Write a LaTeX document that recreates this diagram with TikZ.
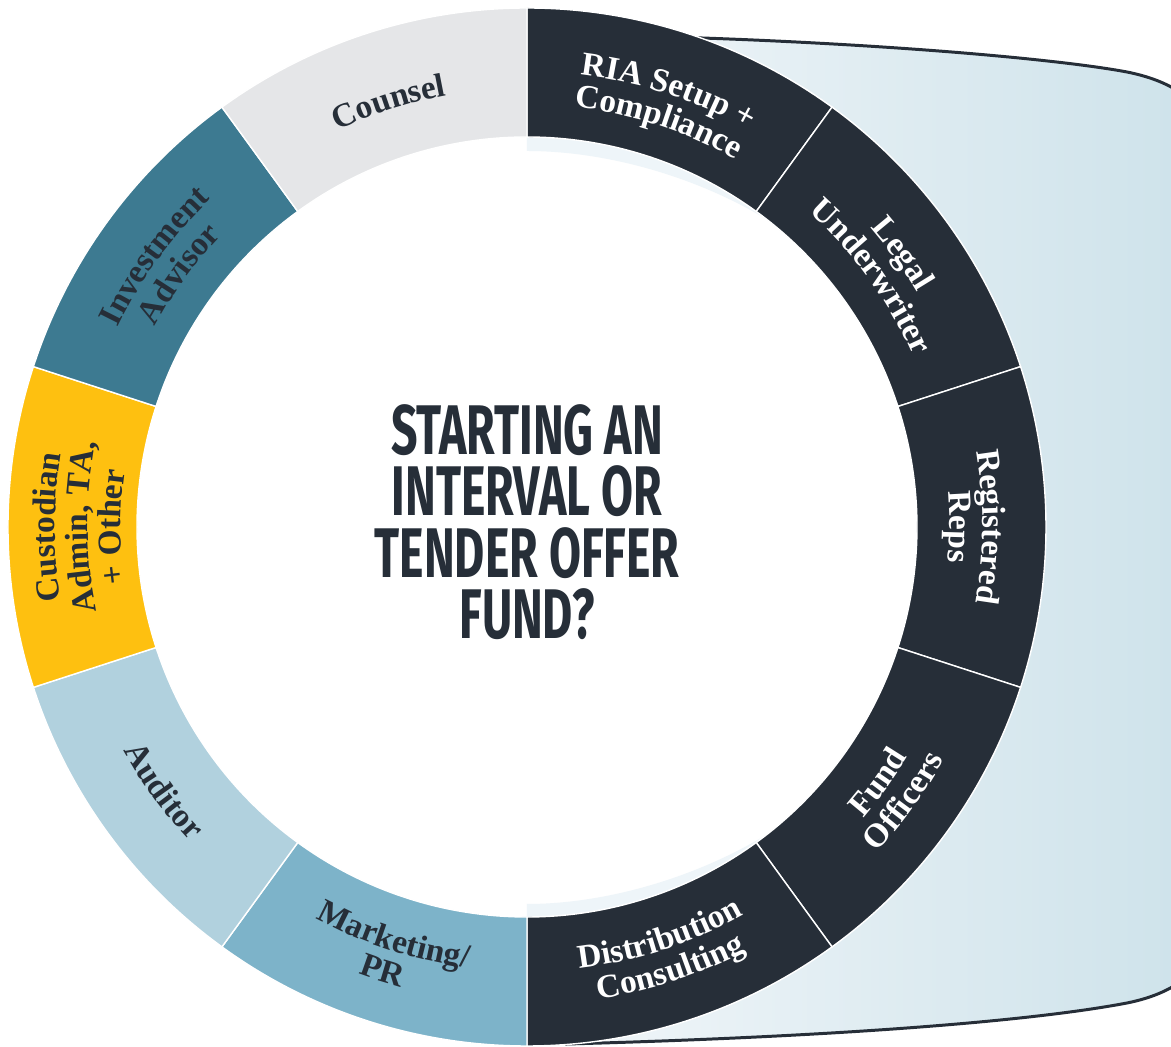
\documentclass[tikz,border=0pt]{standalone}
\usepackage{fontspec}
\setmainfont{Liberation Serif}
\newfontfamily\headfont[FakeStretch=0.66]{Fira Sans}
\usetikzlibrary{decorations.text}

\definecolor{navy}{HTML}{262E38}
\definecolor{counselgray}{HTML}{E5E6E8}
\definecolor{advisorteal}{HTML}{3D7A91}
\definecolor{custodianyellow}{HTML}{FEC010}
\definecolor{auditorblue}{HTML}{B1D1DE}
\definecolor{marketingblue}{HTML}{7DB3C9}
\definecolor{panelleft}{HTML}{F1F6F9}
\definecolor{panelright}{HTML}{CDE2EA}
\definecolor{fringe}{HTML}{EEF5F9}

\newcommand{\labfont}{\bfseries\fontsize{19}{19}\selectfont}

\begin{document}
\begin{tikzpicture}[x=0.02cm,y=0.02cm,
    segment/.style={fill=#1,draw=white,line width=0.8pt},
    panel/.style={draw=navy,line width=1.7pt,left color=panelleft,right color=panelright},
    title/.style={font=\headfont\bfseries\fontsize{40}{35}\selectfont,text=navy,align=center,inner sep=0pt}]
    \useasboundingbox (-527,-520) rectangle (644,527);
    \clip (-527,-520) rectangle (644,527);

    % panel behind the right half
    \path[panel] (60,492) .. controls (300,488) and (520,470) .. (600,455)
        .. controls (640,447) and (670,430) .. (680,400) -- (680,-420)
        .. controls (670,-450) and (640,-468) .. (600,-476)
        .. controls (500,-495) and (300,-510) .. (40,-517) -- cycle;
    \fill[white] (0,0) circle[radius=390];
    \fill[fringe] (90:390) arc[start angle=90,end angle=52,radius=390]
        .. controls (170,350) and (80,376) .. (0,376) -- cycle;
    \fill[fringe] (-90:390) arc[start angle=-90,end angle=-52,radius=390]
        .. controls (170,-350) and (80,-377) .. (0,-377) -- cycle;

    % ring, clockwise from the top
    \foreach \a/\col in {90/navy,54/navy,18/navy,-18/navy,-54/navy,-90/marketingblue,
                         -126/auditorblue,-162/custodianyellow,-198/advisorteal,-234/counselgray}
        \path[segment=\col] (\a:519) arc[start angle=\a,end angle=\a-36,radius=519]
            -- (\a-36:390) arc[start angle=\a-36,end angle=\a,radius=390] -- cycle;

    % labels on the upper side
    \foreach \ang/\rad/\col/\txt in {72/455.5/white/RIA Setup +,72/422.5/white/Compliance,
                                     36/455.5/white/Legal,36/422.5/white/Underwriter,
                                     0/455.5/white/Registered,0/422.5/white/Reps,
                                     108/439/navy/Counsel,
                                     144/455.5/navy/Investment,144/422.5/navy/Advisor,
                                     180/472/navy/Custodian,180/439/navy/{Admin, TA,},180/406/navy/+ Other}
        \path[decorate,decoration={text along path,text align=center,text color=\col,
                text/.expanded={|\noexpand\labfont|\txt}}]
            (\ang+50:\rad) arc[start angle=\ang+50,end angle=\ang-50,radius=\rad];

    % labels on the lower side
    \foreach \ang/\rad/\col/\txt in {-36/444.5/white/Fund,-36/477.5/white/Officers,
                                     -72/444.5/white/Distribution,-72/477.5/white/Consulting,
                                     -108/444.5/navy/{Marketing/},-108/477.5/navy/PR,
                                     -144/461/navy/Auditor}
        \path[decorate,decoration={text along path,text align=center,text color=\col,
                text/.expanded={|\noexpand\labfont|\txt}}]
            (\ang-50:\rad) arc[start angle=\ang-50,end angle=\ang+50,radius=\rad];

    \node[title] (question) at (0,5) {STARTING AN\\INTERVAL OR\\TENDER OFFER\\FUND?};
\end{tikzpicture}
\end{document}
